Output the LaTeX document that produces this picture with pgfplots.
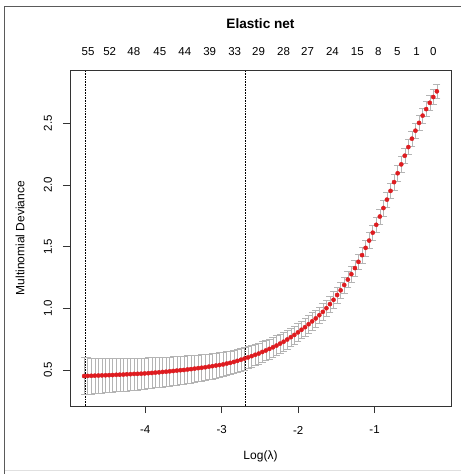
\documentclass[border=0pt]{standalone}
\usepackage{pgfplots}
\pgfplotsset{compat=1.18}
\usepackage{pgfplotstable}
\usepackage{fontspec}
\setmainfont{Liberation Sans}
\definecolor{dotred}{RGB}{222,28,32}
\definecolor{bargray}{RGB}{180,180,180}
\definecolor{framegray}{RGB}{90,90,90}
\tikzset{toplab/.style={font=\fontsize{11.5}{13}\selectfont, anchor=center, yshift=18.3pt}}

\pgfplotstableread{
x y e
-4.800 0.451 0.149
-4.753 0.452 0.148
-4.707 0.453 0.146
-4.660 0.454 0.145
-4.614 0.455 0.144
-4.567 0.456 0.143
-4.520 0.457 0.141
-4.474 0.458 0.140
-4.427 0.459 0.139
-4.380 0.461 0.137
-4.334 0.462 0.136
-4.287 0.463 0.135
-4.241 0.465 0.134
-4.194 0.466 0.132
-4.147 0.468 0.131
-4.101 0.469 0.130
-4.054 0.470 0.128
-4.008 0.472 0.127
-3.961 0.474 0.126
-3.914 0.476 0.125
-3.868 0.479 0.123
-3.821 0.481 0.122
-3.774 0.484 0.121
-3.728 0.486 0.120
-3.681 0.489 0.118
-3.635 0.492 0.117
-3.588 0.495 0.116
-3.541 0.498 0.114
-3.495 0.500 0.113
-3.448 0.504 0.112
-3.402 0.507 0.111
-3.355 0.511 0.109
-3.308 0.515 0.108
-3.262 0.518 0.107
-3.215 0.522 0.105
-3.168 0.527 0.104
-3.122 0.531 0.103
-3.075 0.536 0.102
-3.029 0.540 0.100
-2.982 0.545 0.099
-2.935 0.552 0.098
-2.889 0.558 0.096
-2.842 0.565 0.095
-2.796 0.574 0.094
-2.749 0.583 0.093
-2.702 0.592 0.091
-2.656 0.602 0.090
-2.609 0.612 0.088
-2.562 0.623 0.087
-2.516 0.633 0.086
-2.469 0.646 0.085
-2.423 0.658 0.083
-2.376 0.671 0.082
-2.329 0.684 0.081
-2.283 0.698 0.080
-2.236 0.714 0.078
-2.190 0.729 0.077
-2.143 0.747 0.076
-2.096 0.766 0.075
-2.050 0.784 0.073
-2.003 0.805 0.072
-1.956 0.826 0.071
-1.910 0.847 0.071
-1.863 0.871 0.070
-1.817 0.894 0.070
-1.770 0.918 0.069
-1.723 0.944 0.068
-1.677 0.971 0.068
-1.630 1.001 0.067
-1.584 1.034 0.066
-1.537 1.069 0.066
-1.490 1.108 0.065
-1.444 1.146 0.065
-1.397 1.189 0.065
-1.350 1.233 0.065
-1.304 1.277 0.065
-1.257 1.326 0.065
-1.211 1.377 0.064
-1.164 1.431 0.064
-1.117 1.490 0.064
-1.071 1.549 0.064
-1.024 1.613 0.064
-0.978 1.677 0.063
-0.931 1.744 0.063
-0.884 1.813 0.063
-0.838 1.881 0.063
-0.791 1.952 0.063
-0.745 2.023 0.062
-0.698 2.095 0.062
-0.651 2.167 0.062
-0.605 2.237 0.062
-0.558 2.307 0.062
-0.511 2.375 0.061
-0.465 2.440 0.061
-0.418 2.503 0.061
-0.371 2.562 0.061
-0.325 2.615 0.061
-0.278 2.666 0.060
-0.232 2.713 0.060
-0.185 2.759 0.060
}\cvdata

\begin{document}
\begin{tikzpicture}[x=1pt,y=1pt]
\useasboundingbox (0,0) rectangle (461,474);
\draw[black!12, line width=0.8pt] (4.5,4) -- (461,4);
\draw[framegray, line width=0.9pt] (4.5,0) -- (4.5,468) -- (461,468);
\begin{axis}[
  at={(70pt,68pt)}, anchor=south west,
  scale only axis, width=381pt, height=336pt,
  xmin=-4.985, xmax=0.0, ymin=0.208, ymax=2.932,
  clip=false,
  axis line style={line width=0.8pt, black!80},
  xtick={-4,-3,-2,-1}, xticklabels={-4,-3,-2,-1},
  ytick={0.5,1.0,1.5,2.0,2.5}, yticklabels={0.5,1.0,1.5,2.0,2.5},
  xtick pos=bottom, ytick pos=left,
  tick align=outside, major tick length=7pt,
  every tick/.style={black!80, line width=0.8pt},
  ticklabel style={font=\fontsize{11.5}{13}\selectfont},
  xticklabel style={anchor=center, yshift=-17pt},
  yticklabel style={xshift=-15pt, rotate=90, anchor=center},
  title={Elastic net},
  title style={at={(axis description cs:0.5,1)}, anchor=center, yshift=40pt, font=\bfseries\fontsize{13.6}{16}\selectfont},
  xlabel={Log(λ)},
  ylabel={Multinomial Deviance},
  every axis x label/.style={at={(axis description cs:0.5,0)}, anchor=center, yshift=-50pt, font=\fontsize{12}{14}\selectfont},
  every axis y label/.style={at={(axis description cs:0,0.5)}, xshift=-50pt, rotate=90, anchor=center, font=\fontsize{12}{14}\selectfont},
]
% vertical error segments
\addplot[draw=none, mark=none, forget plot,
  error bars/.cd, y dir=both, y explicit, error mark=none,
  error bar style={draw=bargray, line width=0.5pt}]
  table[x=x, y=y, y error=e] {\cvdata};
% caps
\addplot[only marks, mark=-, mark size=3.5pt, mark options={draw=bargray, line width=0.5pt}, forget plot]
  table[x=x, y expr=\thisrow{y}+\thisrow{e}] {\cvdata};
\addplot[only marks, mark=-, mark size=3.5pt, mark options={draw=bargray, line width=0.5pt}, forget plot]
  table[x=x, y expr=\thisrow{y}-\thisrow{e}] {\cvdata};
% CV means
\addplot[only marks, mark=*, mark size=2.1pt, mark options={draw=dotred, fill=dotred}]
  table[x=x, y=y] {\cvdata};
\addplot[black, densely dotted, line width=0.6pt] coordinates {(-4.79,0.208) (-4.79,2.932)};
\addplot[black, densely dotted, line width=0.6pt] coordinates {(-2.695,0.208) (-2.695,2.932)};
\node[toplab] at (axis cs:-4.749,2.932) {55};
\node[toplab] at (axis cs:-4.466,2.932) {52};
\node[toplab] at (axis cs:-4.149,2.932) {48};
\node[toplab] at (axis cs:-3.809,2.932) {45};
\node[toplab] at (axis cs:-3.483,2.932) {44};
\node[toplab] at (axis cs:-3.157,2.932) {39};
\node[toplab] at (axis cs:-2.830,2.932) {33};
\node[toplab] at (axis cs:-2.517,2.932) {29};
\node[toplab] at (axis cs:-2.191,2.932) {28};
\node[toplab] at (axis cs:-1.877,2.932) {27};
\node[toplab] at (axis cs:-1.551,2.932) {24};
\node[toplab] at (axis cs:-1.225,2.932) {15};
\node[toplab] at (axis cs:-0.950,2.932) {8};
\node[toplab] at (axis cs:-0.702,2.932) {5};
\node[toplab] at (axis cs:-0.449,2.932) {1};
\node[toplab] at (axis cs:-0.232,2.932) {0};
\end{axis}
\end{tikzpicture}
\end{document}
